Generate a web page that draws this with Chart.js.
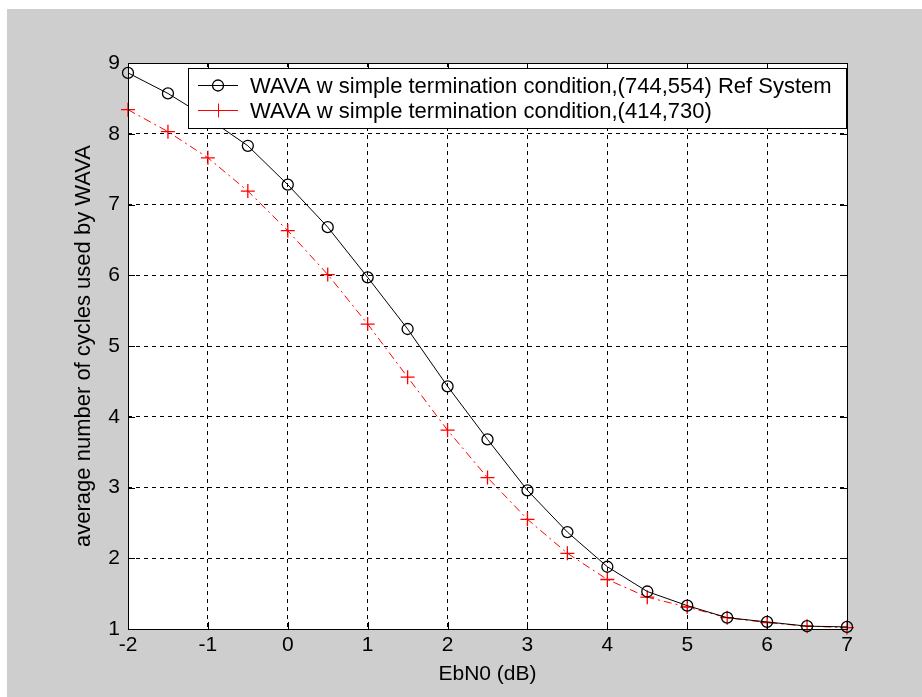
<!DOCTYPE html>
<html>
<head>
<meta charset="utf-8">
<script src="https://cdn.jsdelivr.net/npm/chart.js@4.4.1/dist/chart.umd.min.js"></script>
<style>
html,body{margin:0;padding:0;background:#fff}
#wrap{position:absolute;left:0;top:0;width:922px;height:697px}
</style>
</head>
<body>
<div id="wrap"><canvas id="c" width="922" height="697"></canvas></div>
<script>
// EbN0 axis (dB)
const EBN0=[-2,-1.5,-1,-0.5,0,0.5,1,1.5,2,2.5,3,3.5,4,4.5,5,5.5,6,6.5,7];
// (744,554) Ref System
const REF=[8.86,8.57,8.22,7.83,7.28,6.68,5.97,5.24,4.43,3.68,2.96,2.37,1.88,1.53,1.33,1.16,1.10,1.04,1.03];
// (414,730)
const ALT=[8.34,8.03,7.66,7.19,6.63,6.01,5.31,4.56,3.81,3.14,2.55,2.07,1.70,1.45,1.31,1.16,1.09,1.04,1.02];
const X_TICKS=[-2,-1,0,1,2,3,4,5,6,7];
const Y_TICKS=[1,2,3,4,5,6,7,8,9];
const LABELS=["WAVA w simple termination condition,(744,554) Ref System","WAVA w simple termination condition,(414,730)"];

const FONT="'Liberation Sans',Arial,sans-serif";
const pts=ys=>EBN0.map((x,i)=>({x:x,y:ys[i]}));

// gray figure background with the thin white strip top/left
const bgPlug={id:"bg",beforeDraw(ch){const c=ch.ctx;c.save();c.fillStyle="#fff";c.fillRect(0,0,ch.width,ch.height);
  c.fillStyle="#cecece";c.fillRect(7,9,ch.width-7,ch.height-9);
  const a=ch.chartArea;c.fillStyle="#fff";c.fillRect(a.left,a.top,a.right-a.left,a.bottom-a.top);c.restore()}};

// matlab style box + inward ticks
const boxPlug={id:"box",afterDatasetsDraw(ch){const c=ch.ctx,a=ch.chartArea,sx=ch.scales.x,sy=ch.scales.y;c.save();
  c.strokeStyle="#000";c.lineWidth=1;c.setLineDash([]);
  c.strokeRect(a.left+0.5,a.top+0.5,a.right-a.left,a.bottom-a.top);
  c.beginPath();
  X_TICKS.forEach(v=>{const p=Math.round(sx.getPixelForValue(v))+0.5;c.moveTo(p,a.bottom);c.lineTo(p,a.bottom-7);c.moveTo(p,a.top);c.lineTo(p,a.top+7)});
  Y_TICKS.forEach(v=>{const p=Math.round(sy.getPixelForValue(v))+0.5;c.moveTo(a.left,p);c.lineTo(a.left+7,p);c.moveTo(a.right,p);c.lineTo(a.right-7,p)});
  c.stroke();c.restore()}};

// legend box inside the axes, top right
const legPlug={id:"leg",afterDraw(ch){const c=ch.ctx;c.save();
  const L=188,T=68,R=846,B=128;
  c.fillStyle="#fff";c.fillRect(L,T,R-L,B-T);
  c.strokeStyle="#000";c.lineWidth=1;c.strokeRect(L+0.5,T+0.5,R-L,B-T);
  c.font="22px "+FONT;c.textBaseline="middle";c.textAlign="left";
  ch.data.datasets.forEach((d,i)=>{const y=85+i*25+0.5;
    c.strokeStyle=d.borderColor;c.lineWidth=1;c.setLineDash([]);
    c.beginPath();c.moveTo(198,y);c.lineTo(238,y);c.stroke();
    c.beginPath();
    if(d.pointStyle==="circle"){c.lineWidth=1.3;c.arc(218,y,5.5,0,Math.PI*2)}
    else{c.moveTo(211,y);c.lineTo(225,y);c.moveTo(218.5,y-7);c.lineTo(218.5,y+7)}
    c.stroke();
    c.fillStyle="#000";c.fillText(LABELS[i],250,y+1)});
  c.restore()}};

new Chart(document.getElementById("c"),{
  type:"line",
  data:{datasets:[
    {label:LABELS[0],data:pts(REF),borderColor:"#000",borderWidth:1,backgroundColor:"rgba(0,0,0,0)",
     pointStyle:"circle",pointRadius:5.5,pointBorderWidth:1.3,pointBorderColor:"#000",pointBackgroundColor:"rgba(0,0,0,0)",tension:0,clip:false},
    {label:LABELS[1],data:pts(ALT),borderColor:"#ff0000",borderWidth:1,borderDash:[8,4,2,4],backgroundColor:"rgba(0,0,0,0)",
     pointStyle:"cross",pointRadius:7,pointBorderWidth:1.3,pointBorderColor:"#ff0000",tension:0,clip:false}
  ]},
  options:{
    responsive:false,animation:false,devicePixelRatio:1,
    layout:{padding:{top:63,right:75,left:0,bottom:0}},
    plugins:{legend:{display:false},tooltip:{enabled:false}},
    scales:{
      x:{type:"linear",min:-2,max:7,afterBuildTicks:s=>{s.ticks=X_TICKS.map(v=>({value:v}))},
        afterFit:s=>{s.height=68},
        grid:{color:"#000",lineWidth:1,drawTicks:false},border:{display:false,dash:[4,4]},
        ticks:{color:"#000",padding:4,maxRotation:0,font:{family:FONT,size:21},callback:v=>String(v)},
        title:{display:true,text:"EbN0 (dB)",color:"#000",font:{family:FONT,size:21},padding:{top:0,bottom:10}}},
      y:{type:"linear",min:1,max:9,afterBuildTicks:s=>{s.ticks=Y_TICKS.map(v=>({value:v}))},
        afterFit:s=>{s.width=128},
        grid:{color:"#000",lineWidth:1,drawTicks:false},border:{display:false,dash:[4,4]},
        ticks:{color:"#000",padding:8,font:{family:FONT,size:21},callback:v=>String(v)},
        title:{display:true,text:"average number of cycles used by WAVA",color:"#000",font:{family:FONT,size:22},padding:{top:71,bottom:0}}}
    }
  },
  plugins:[bgPlug,boxPlug,legPlug]
});
</script>
</body>
</html>
